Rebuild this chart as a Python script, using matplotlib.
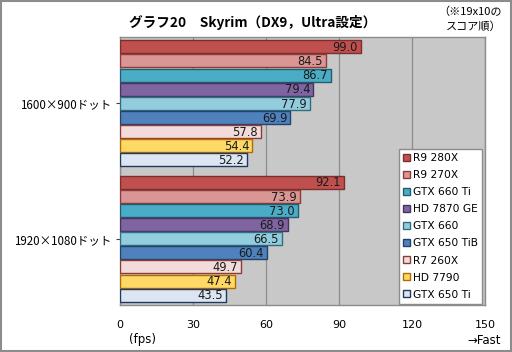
import matplotlib
matplotlib.use("Agg")
import matplotlib.pyplot as plt
from matplotlib.patches import Patch
import numpy as np

plt.rcParams["font.family"] = ["DejaVu Sans", "Noto Sans CJK JP"]

cards = ["R9 280X", "R9 270X", "GTX 660 Ti", "HD 7870 GE", "GTX 660",
         "GTX 650 TiB", "R7 260X", "HD 7790", "GTX 650 Ti"]
resolutions = ["1600×900ドット", "1920×1080ドット"]
fps_1600 = [99.0, 84.5, 86.7, 79.4, 77.9, 69.9, 57.8, 54.4, 52.2]
fps_1920 = [92.1, 73.9, 73.0, 68.9, 66.5, 60.4, 49.7, 47.4, 43.5]
x_ticks = [0, 30, 60, 90, 120, 150]

faces = ["#C0504D", "#D99694", "#4BACC6", "#8064A2", "#93CDDD",
         "#4F81BD", "#F2DCDB", "#FFD966", "#DCE6F2"]
edges = ["#7A2F2D", "#8C3B38", "#215E70", "#45345E", "#2F6F80",
         "#23436B", "#8C3B38", "#B36B00", "#1F3A5F"]

fig = plt.figure(figsize=(5.12, 3.52), dpi=100)
fig.patch.set_facecolor("white")
ax = fig.add_axes([120 / 512, 47 / 352, 365 / 512, 268 / 352])
ax.set_facecolor("#C8C8C8")

group_offsets = [0.0, 9.6]
for g, values in enumerate([fps_1600, fps_1920]):
    for i, v in enumerate(values):
        y = group_offsets[g] + i
        ax.barh(y, v, height=0.92, color=faces[i], edgecolor=edges[i],
                linewidth=1.0, zorder=3)
        ax.text(v - 1.2, y + 0.05, f"{v:.1f}", ha="right", va="center",
                fontsize=8.3, color="#1A1A1A", zorder=4)

ax.set_xlim(0, 150)
ax.set_ylim(18.3, -0.7)
ax.set_xticks(x_ticks)
ax.set_xticklabels([str(t) for t in x_ticks], fontsize=8)
ax.tick_params(axis="x", length=0, pad=11)
ax.set_yticks([group_offsets[0] + 4, group_offsets[1] + 4])
ax.set_yticklabels(resolutions, fontsize=8.3, family=["Noto Sans CJK JP", "DejaVu Sans"])
ax.tick_params(axis="y", length=3, pad=3, color="#404040")
ax.xaxis.grid(True, color="#8C8C8C", linewidth=0.9, zorder=1)
ax.set_axisbelow(True)
for side in ax.spines.values():
    side.set_color("#8C8C8C")
    side.set_linewidth(1.0)

handles = [Patch(facecolor=faces[i], edgecolor=edges[i], label=cards[i])
           for i in range(len(cards))]
leg = ax.legend(handles=handles, loc="lower right", bbox_to_anchor=(0.995, 0.0),
                fontsize=7.7, frameon=True, fancybox=False, handlelength=0.6,
                handleheight=0.6, handletextpad=0.3, labelspacing=0.66,
                borderpad=0.4, borderaxespad=0.1)
leg.get_frame().set_edgecolor("#8C8C8C")
leg.get_frame().set_facecolor("white")
leg.get_frame().set_alpha(1)
leg.set_zorder(5)

jp = ["Noto Sans CJK JP", "DejaVu Sans"]
fig.text(253 / 512, 1 - 22 / 352, "グラフ20　Skyrim（DX9，Ultra設定）", ha="center",
         va="center", fontsize=9.8, fontweight="bold", family=jp)
fig.text(502 / 512, 1 - 12 / 352, "（※19x10の", ha="right", va="center",
         fontsize=8, family=jp)
fig.text(502 / 512, 1 - 27 / 352, "スコア順）", ha="right", va="center",
         fontsize=8, family=jp)
fig.text(143 / 512, 1 - 340 / 352, "(fps)", ha="center", va="center", fontsize=8.5)
fig.text(501 / 512, 1 - 340 / 352, "→Fast", ha="right", va="center", fontsize=8.5)

border = plt.Rectangle((0.001, 0.002), 0.997, 0.996, transform=fig.transFigure,
                       fill=False, edgecolor="#8C8C8C", linewidth=1.5)
fig.patches.append(border)

fig.savefig("out.png", dpi=100)
